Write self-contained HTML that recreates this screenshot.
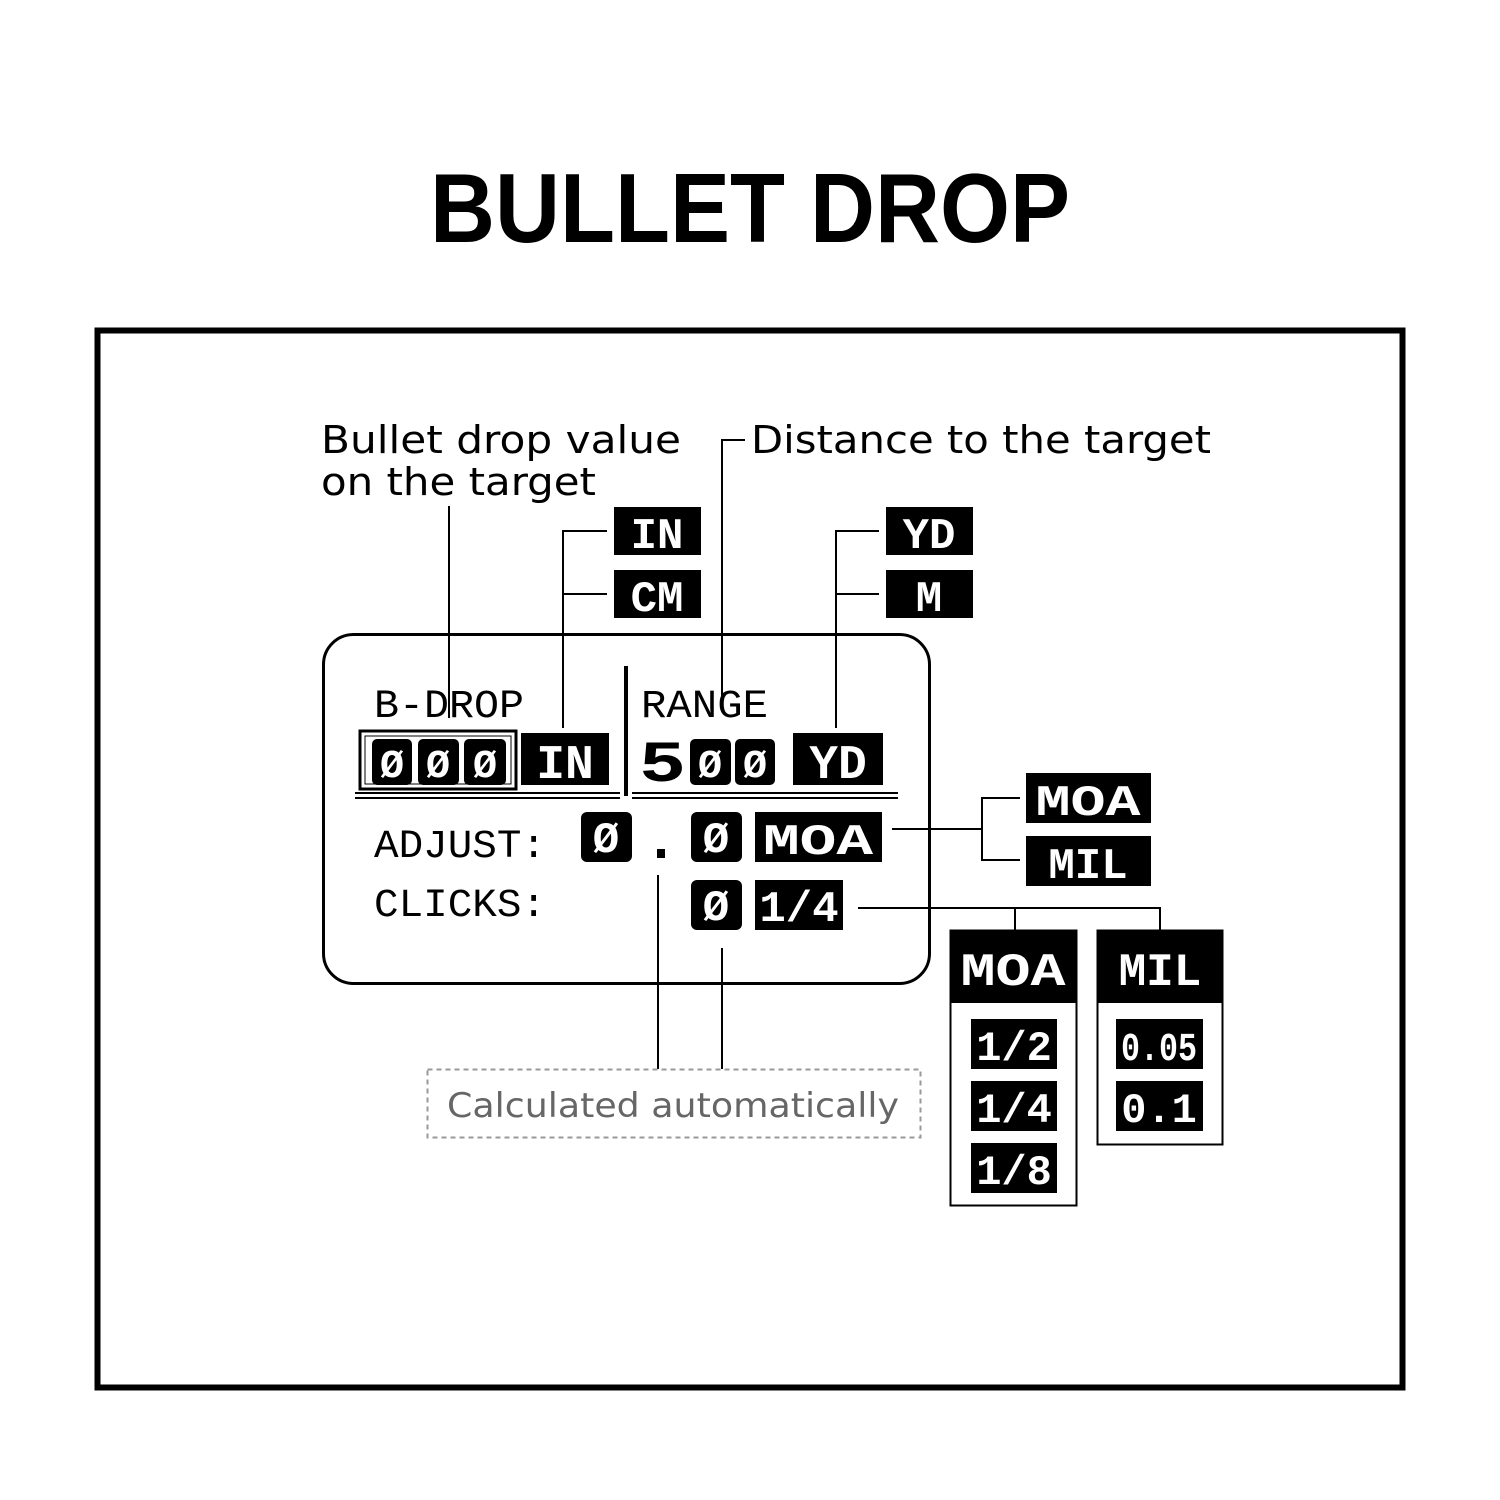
<!DOCTYPE html>
<html><head><meta charset="utf-8"><style>html,body{margin:0;padding:0;background:#fff}svg{display:block}</style></head><body>
<svg width="1500" height="1500" viewBox="0 0 1500 1500" xmlns="http://www.w3.org/2000/svg">
<rect width="1500" height="1500" fill="#fff"/>
<text x="750" y="242" text-anchor="middle" font-family="Liberation Sans, sans-serif" font-weight="bold" font-size="98" textLength="640" lengthAdjust="spacingAndGlyphs">BULLET DROP</text>
<rect x="97.5" y="330.5" width="1305" height="1057" fill="none" stroke="#000" stroke-width="6"/>
<g font-family="DejaVu Sans, sans-serif" font-size="38" fill="#000">
<text x="321" y="453" textLength="360" lengthAdjust="spacingAndGlyphs">Bullet drop value</text>
<text x="321" y="495" textLength="275" lengthAdjust="spacingAndGlyphs">on the target</text>
<text x="751" y="453" textLength="460" lengthAdjust="spacingAndGlyphs">Distance to the target</text>
</g>
<g stroke="#000" stroke-width="2" fill="none">
<path d="M449 506V718"/>
<path d="M745 440H722V700"/>
<path d="M607 531H563V728M563 594H607"/>
<path d="M879 531H836V728M836 594H879"/>
<path d="M892 829H982M1020 798H982V860H1020"/>
<path d="M858 908H1160V930M1015 908V930"/>
<path d="M658 875V1069M722 948V1069"/>
</g>
<rect x="323.5" y="634.5" width="606" height="349" rx="30" fill="none" stroke="#000" stroke-width="3"/>
<g fill="#000">
<rect x="614" y="507" width="87" height="48"/><rect x="614" y="570" width="87" height="48"/>
<rect x="886" y="507" width="87" height="48"/><rect x="886" y="570" width="87" height="48"/>
<rect x="624" y="666" width="4" height="130"/>
<rect x="521" y="733" width="88" height="52"/>
<rect x="793" y="733" width="90" height="52"/>
<rect x="372" y="739" width="40" height="46" rx="5"/><rect x="418" y="739" width="41" height="46" rx="5"/><rect x="464" y="739" width="42" height="46" rx="5"/>
<rect x="690" y="739" width="41" height="46" rx="5"/><rect x="735" y="739" width="40" height="46" rx="5"/>
<rect x="581" y="812" width="51" height="50" rx="6"/>
<rect x="657" y="849" width="8" height="9"/>
<rect x="691" y="812" width="51" height="50" rx="6"/>
<rect x="755" y="812" width="127" height="50"/>
<rect x="691" y="880" width="51" height="50" rx="6"/>
<rect x="755" y="880" width="88" height="50"/>
<rect x="1026" y="773" width="125" height="50"/><rect x="1026" y="836" width="125" height="50"/>
<rect x="950" y="930" width="127" height="73"/><rect x="1097" y="930" width="126" height="73"/>
<rect x="971" y="1019" width="86" height="50"/><rect x="971" y="1081" width="86" height="50"/><rect x="971" y="1143" width="86" height="50"/>
<rect x="1116" y="1019" width="87" height="50"/><rect x="1116" y="1081" width="87" height="50"/>
</g>
<g fill="none" stroke="#000">
<rect x="360" y="731" width="156" height="58" stroke-width="3"/>
<rect x="365" y="736" width="146" height="48" stroke-width="1"/>
<path d="M355 793H620M355 798H620M632 793H898M632 798H898" stroke-width="2"/>
<rect x="950.5" y="930.5" width="126" height="275" stroke-width="2"/>
<rect x="1097.5" y="930.5" width="125" height="214" stroke-width="2"/>
</g>
<rect x="427.5" y="1069.5" width="493" height="68" fill="none" stroke="#999" stroke-width="2" stroke-dasharray="5,4"/>
<text x="673" y="1117" text-anchor="middle" font-family="DejaVu Sans, sans-serif" font-size="34" fill="#666" textLength="452" lengthAdjust="spacingAndGlyphs">Calculated automatically</text>
<g font-family="Liberation Mono, monospace" font-size="40" fill="#000">
<text x="374" y="717" textLength="150" lengthAdjust="spacingAndGlyphs">B-DROP</text>
<text x="641" y="717" textLength="127" lengthAdjust="spacingAndGlyphs">RANGE</text>
<text x="374" y="857" textLength="172" lengthAdjust="spacingAndGlyphs">ADJUST:</text>
<text x="374" y="916" textLength="172" lengthAdjust="spacingAndGlyphs">CLICKS:</text>
<text x="639" y="781" font-weight="bold" font-size="58" textLength="47" lengthAdjust="spacingAndGlyphs">5</text>
</g>
<g font-family="Liberation Mono, monospace" font-weight="bold" fill="#fff" text-anchor="middle">
<text x="657" y="548" font-size="44">IN</text>
<text x="657" y="611" font-size="44">CM</text>
<text x="929" y="548" font-size="44">YD</text>
<text x="929" y="611" font-size="44">M</text>
<text x="565" y="778" font-size="48">IN</text>
<text x="838" y="778" font-size="48">YD</text>
<text x="392" y="777" font-size="40">Ø</text><text x="438" y="777" font-size="40">Ø</text><text x="485" y="777" font-size="40">Ø</text>
<text x="710" y="777" font-size="40">Ø</text><text x="755" y="777" font-size="40">Ø</text>
<text x="606" y="852" font-size="44">Ø</text>
<text x="716" y="852" font-size="44">Ø</text>
<text x="818" y="854" font-size="44" textLength="110" lengthAdjust="spacingAndGlyphs">MOA</text>
<text x="716" y="920" font-size="44">Ø</text>
<text x="799" y="921" font-size="44">1/4</text>
<text x="1088" y="815" font-size="44" textLength="105" lengthAdjust="spacingAndGlyphs">MOA</text>
<text x="1088" y="878" font-size="44">MIL</text>
<text x="1013" y="985" font-size="46" textLength="105" lengthAdjust="spacingAndGlyphs">MOA</text>
<text x="1160" y="985" font-size="46">MIL</text>
<text x="1014" y="1060" font-size="42">1/2</text>
<text x="1014" y="1122" font-size="42">1/4</text>
<text x="1014" y="1184" font-size="42">1/8</text>
<text x="1159" y="1060" font-size="40" textLength="76" lengthAdjust="spacingAndGlyphs">0.05</text>
<text x="1159" y="1122" font-size="42">0.1</text>
</g>
</svg>
</body></html>
